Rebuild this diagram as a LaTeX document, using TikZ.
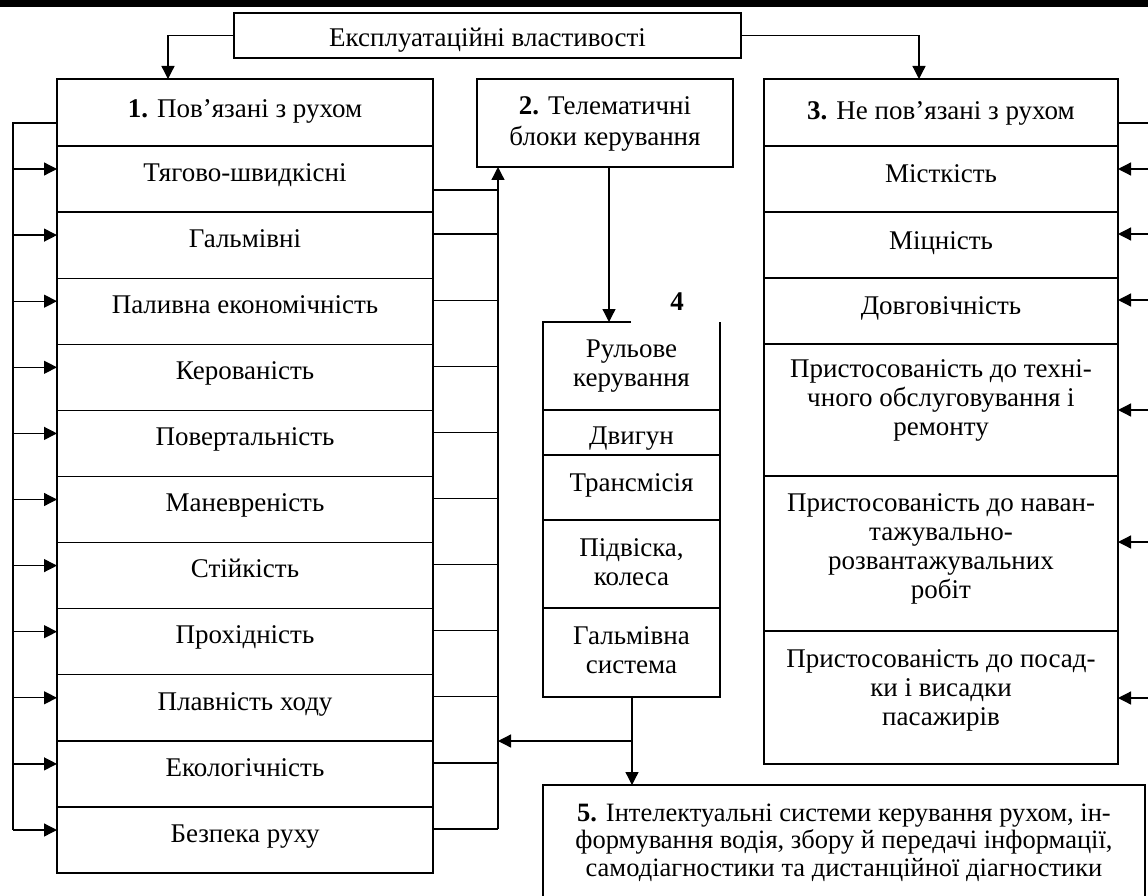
\documentclass[tikz,border=0pt]{standalone}
\usepackage{fontspec}
\setmainfont{Liberation Serif}
\usetikzlibrary{arrows.meta,calc}
\newcommand{\cellnode}[5]{\node[cellst, minimum width={(#4-#2)*1pt}, minimum height={(#5-#3)*1pt}] (#1) at ({(#2+#4)/2},{(#3+#5)/2}) {};}
\newcommand{\celltext}[3]{\node[txt] (#1t) at ($(#1.north)+(0,#2)$) {#3};}
\begin{document}
\begin{tikzpicture}[x=1pt,y=-1pt,
  cellst/.style={draw, line width=1.3pt, inner sep=0pt, outer sep=0pt},
  txt/.style={anchor=north, inner sep=0pt, align=center, font=\fontsize{27}{29}\selectfont},
  ln/.style={line width=1.3pt},
  arr/.style={line width=1.3pt, -{Triangle[length=13pt,width=13pt]}},
]
\useasboundingbox (0,0) rectangle (1148,896);
\fill[black] (0,0) rectangle (1148,7);

% top box
\cellnode{top}{234}{13}{741}{58}
\celltext{top}{12.7}{\strut Експлуатаційні властивості}

% box 1
\cellnode{b1h}{57}{79}{433}{146}
\celltext{b1h}{17.7}{\strut\textbf{1.} Пов’язані з рухом}
\foreach \t [count=\k] in {Тягово-швидкісні,Гальмівні,Паливна економічність,Керованість,Повертальність,Маневреність,Стійкість,Прохідність,Плавність ходу,Екологічність,Безпека руху}{
  \pgfmathsetmacro\ya{146+66.1*(\k-1)}
  \pgfmathsetmacro\yb{\ya+66.1}
  \cellnode{r\k}{57}{\ya}{433}{\yb}
  \celltext{r\k}{14.7}{\strut\t}
  \coordinate (p\k) at ($(r\k.north west)+(0,23)$);
  \coordinate (q\k) at ($(r\k.north east)+(0,22)$);
}
\coordinate (q1) at ($(r1.north east)+(0,44)$);

% box 2
\cellnode{b2}{477}{79}{733}{167}
\node[txt, font=\fontsize{27}{31}\selectfont] (b2t) at ($(b2.north)+(0,13.3)$) {\strut\textbf{2.} Телематичні\\\strut блоки керування};

% box 4
\node[inner sep=0pt, outer sep=0pt, minimum width=177pt, minimum height=88pt] (c1) at (631.5,366) {};
\draw[ln] ($(c1.north west)+(88,0)$) -- (c1.north west) -- (c1.south west) -- (c1.south east) -- (c1.north east);
\celltext{c1}{14.7}{\strut Рульове\\\strut керування}
\cellnode{c2}{543}{410}{720}{455}
\celltext{c2}{13.7}{\strut Двигун}
\cellnode{c3}{543}{455}{720}{520}
\celltext{c3}{15.7}{\strut Трансмісія}
\cellnode{c4}{543}{520}{720}{608}
\celltext{c4}{15.7}{\strut Підвіска,\\\strut колеса}
\cellnode{c5}{543}{608}{720}{697}
\celltext{c5}{15.7}{\strut Гальмівна\\\strut система}
\node[inner sep=0pt, font=\bfseries\fontsize{27}{29}\selectfont] (lab4) at (677,302) {4};

% box 3
\cellnode{b3h}{764}{79}{1118}{146}
\celltext{b3h}{19.7}{\strut\textbf{3.} Не пов’язані з рухом}
\cellnode{d1}{764}{146}{1118}{212}
\celltext{d1}{16.5}{\strut Місткість}
\cellnode{d2}{764}{212}{1118}{278}
\celltext{d2}{16.5}{\strut Міцність}
\cellnode{d3}{764}{278}{1118}{344}
\celltext{d3}{15.7}{\strut Довговічність}
\cellnode{d4}{764}{344}{1118}{476}
\celltext{d4}{12.7}{\strut Пристосованість до техні-\\\strut чного обслуговування і\\\strut ремонту}
\cellnode{d5}{764}{476}{1118}{631}
\celltext{d5}{14.7}{\strut Пристосованість до наван-\\\strut тажувально-\\\strut розвантажувальних\\\strut робіт}
\cellnode{d6}{764}{631}{1118}{764}
\celltext{d6}{15.7}{\strut Пристосованість до посад-\\\strut ки і висадки\\\strut пасажирів}

% box 5
\cellnode{b5}{543}{785}{1145}{910}
\node[txt, font=\fontsize{26.5}{27.5}\selectfont] (b5t) at ($(b5.north)+(0,16.7)$) {\strut\textbf{5.} Інтелектуальні системи керування рухом, ін-\\\strut формування водія, збору й передачі інформації,\\\strut самодіагностики та дистанційної діагностики};

% connectors
\coordinate (lb) at (13,0);
\coordinate (rb) at (498,0);
\draw[arr] (top.west) -| ($(b1h.north west)+(111,0)$);
\draw[arr] (top.east) -| ($(b3h.north west)+(155,0)$);
\draw[ln] ($(b1h.south west)+(0,-23)$) -| (lb |- p11);
\foreach \k in {1,...,11}{
  \draw[arr] (lb |- p\k) -- (p\k);
  \draw[ln] (q\k) -- (rb |- q\k);
}
\draw[arr] (rb |- q11) -- (rb |- b2.south);
\coordinate (x609) at (609,0);
\draw[arr] (b2.south -| x609) -- (c1.north -| x609);
\coordinate (x632) at (632,0);
\draw[arr] (c5.south -| x632) -- (b5.north -| x632);
\coordinate (br) at (632,741);
\draw[arr] (br) -- (rb |- br);
\draw[ln] ($(b3h.south east)+(0,-23)$) -- ++(32,0);
\draw[arr] ($(d1.north east)+(32,23)$) -- ++(-32,0);
\draw[arr] ($(d2.north east)+(32,22)$) -- ++(-32,0);
\draw[arr] ($(d3.north east)+(32,22)$) -- ++(-32,0);
\draw[arr] ($(d4.north east)+(32,66)$) -- ++(-32,0);
\draw[arr] ($(d5.north east)+(32,66)$) -- ++(-32,0);
\draw[arr] ($(d6.north east)+(32,67)$) -- ++(-32,0);
\end{tikzpicture}
\end{document}
